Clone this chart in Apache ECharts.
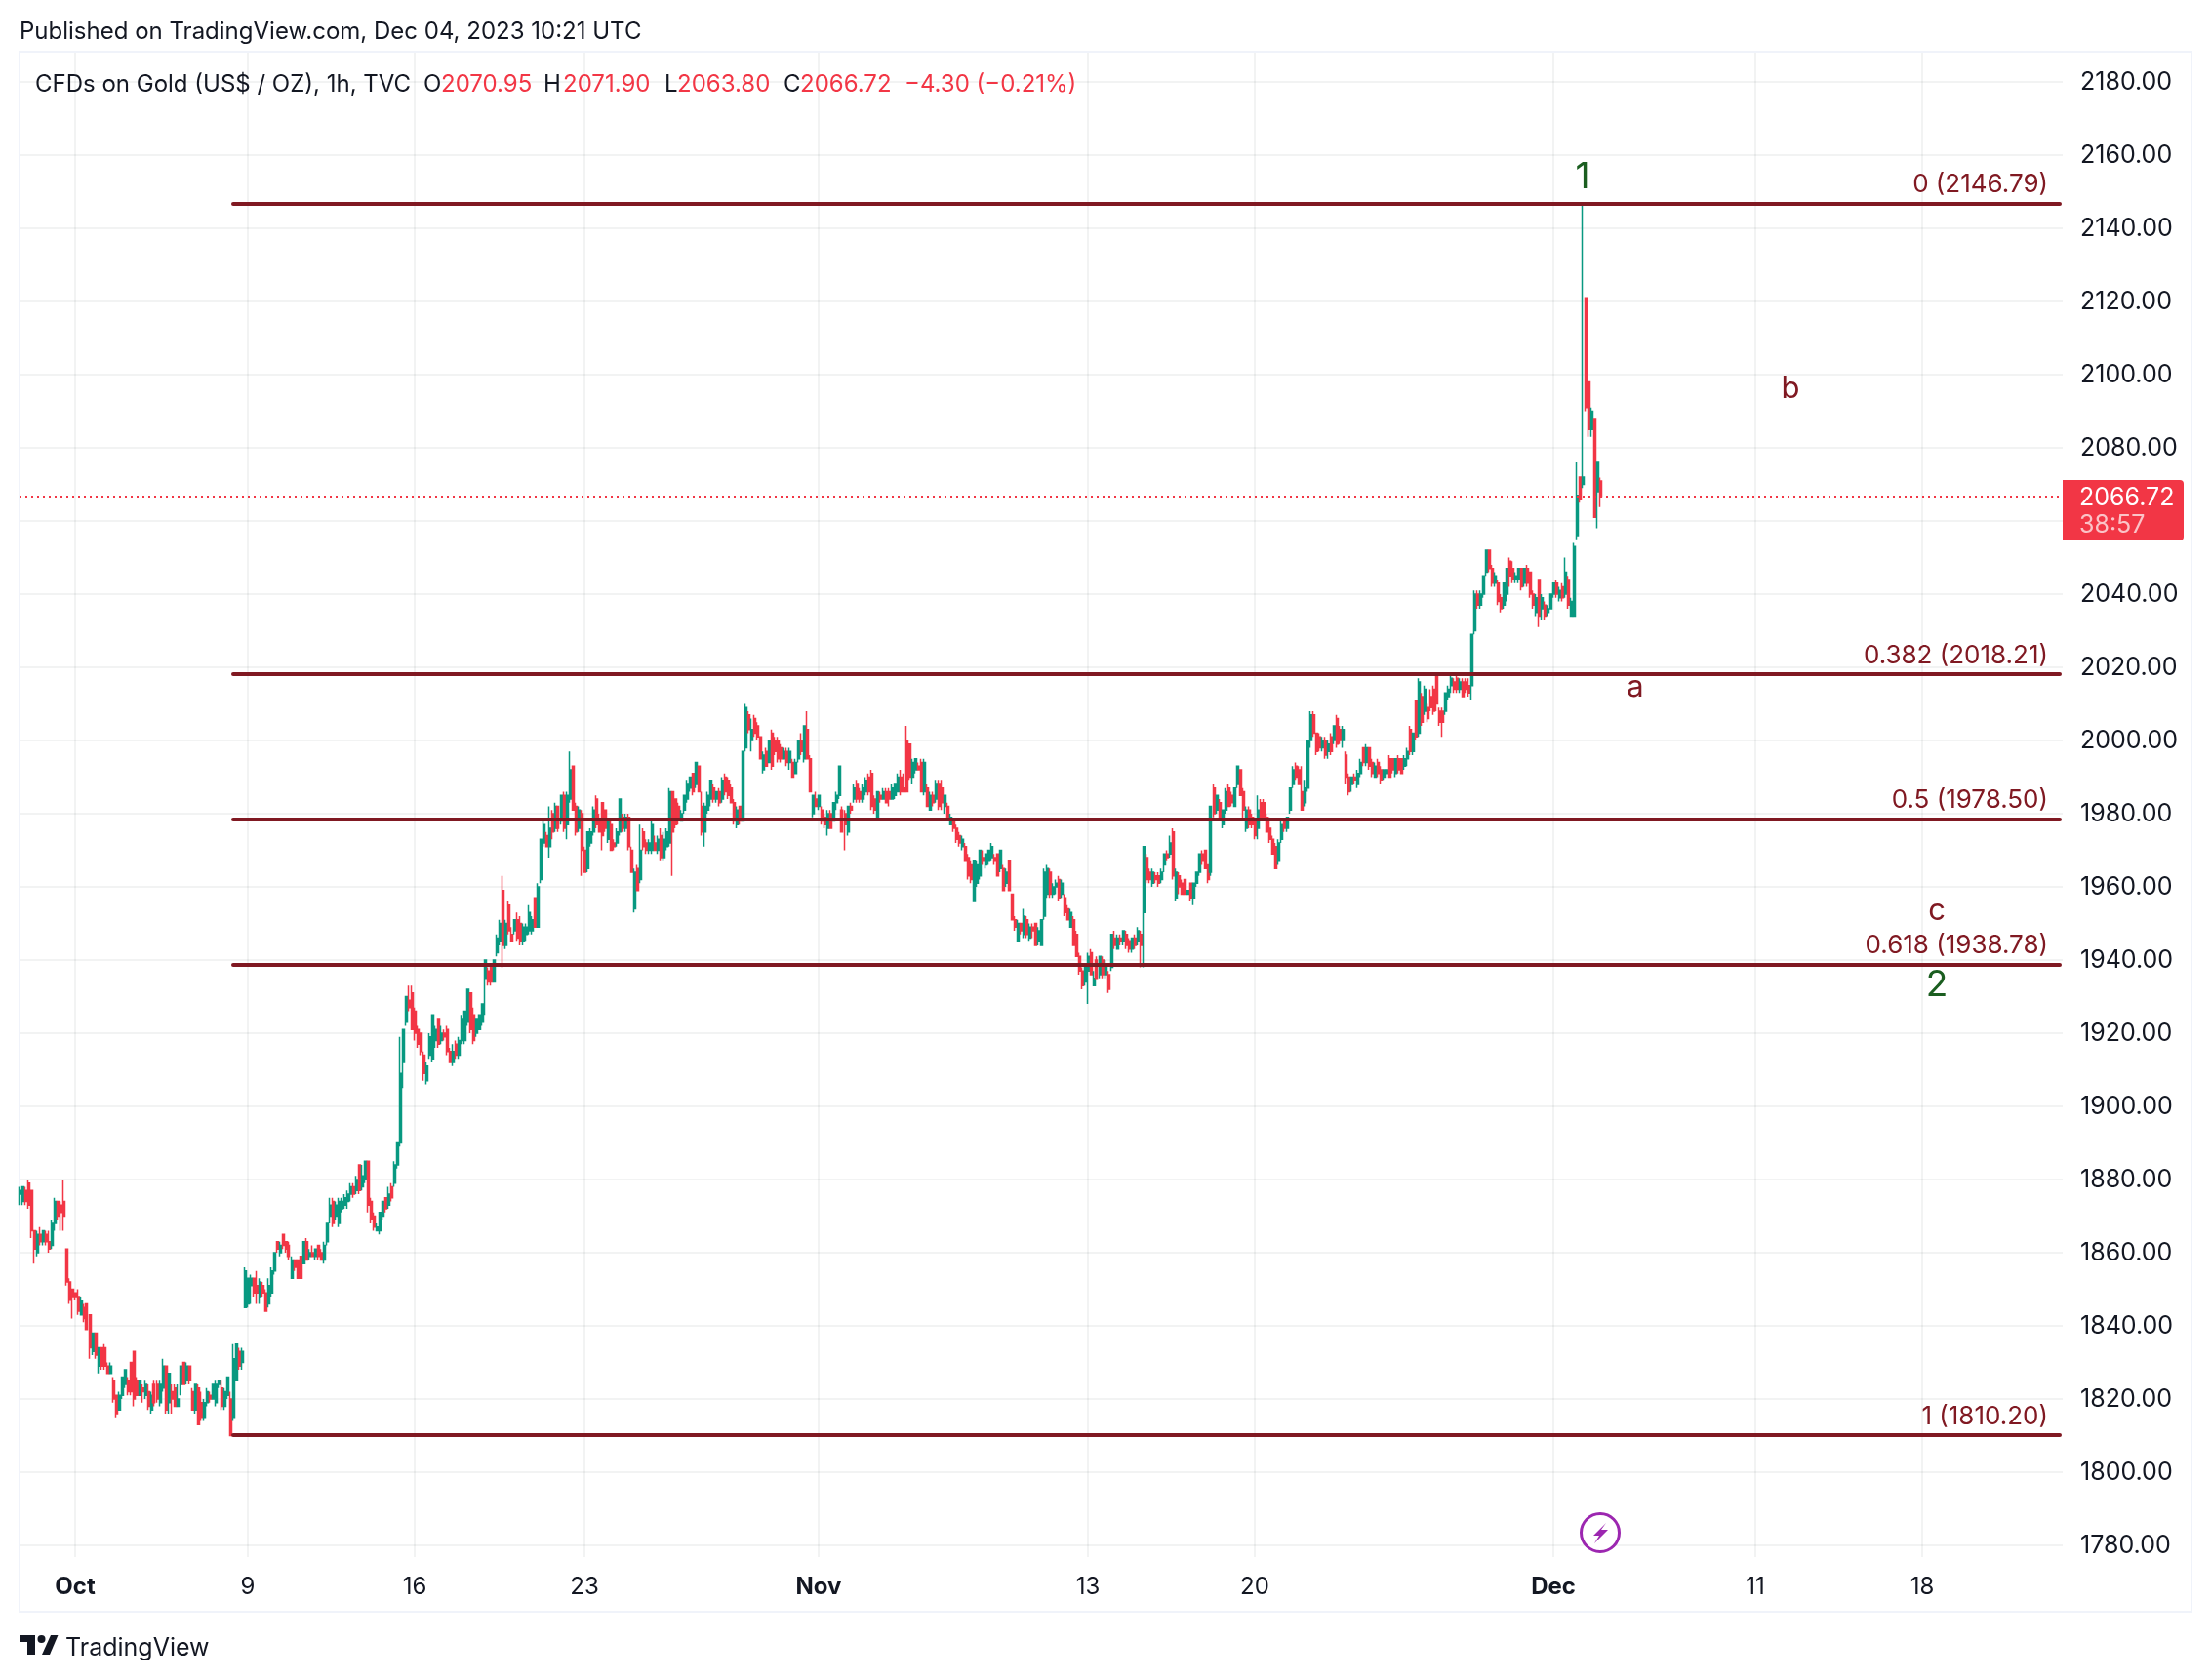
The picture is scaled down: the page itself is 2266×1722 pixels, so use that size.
<!DOCTYPE html>
<html>
<head>
<meta charset="utf-8">
<script src="https://cdn.jsdelivr.net/npm/echarts@6/dist/echarts.min.js"></script>
<style>html,body{margin:0;padding:0;background:#fff}#c{width:2266px;height:1722px}</style>
</head>
<body>
<div id="c"></div>
<script>
const opens = [
1876,1874,1877,1879,1877,1866,1860,1865,1863,1865,
1863,1862,1868,1874,1873,1874,1861,1852,1850,1849,
1848,1843,1845,1846,1843,1833,1838,1829,1834,1834,
1829,1827,1825,1821,1817,1821,1824,1825,1830,1833,
1825,1821,1823,1821,1822,1817,1824,1824,1819,1823,
1829,1819,1822,1823,1818,1824,1830,1825,1829,1822,
1817,1823,1819,1815,1819,1821,1820,1819,1824,1823,
1818,1821,1820,1815,1825,1833,1830,1845,1846,1851,
1853,1851,1848,1851,1849,1846,1849,1855,1863,1860,
1865,1863,1862,1853,1858,1858,1859,1857,1863,1859,
1860,1859,1862,1860,1858,1863,1870,1874,1870,1868,
1872,1873,1874,1876,1878,1877,1884,1878,1880,1885,
1874,1870,1866,1866,1870,1875,1873,1878,1879,1884,
1890,1912,1923,1929,1931,1926,1921,1920,1914,1907,
1914,1913,1918,1924,1918,1920,1921,1915,1912,1917,
1914,1918,1918,1923,1931,1925,1920,1921,1923,1935,
1937,1939,1934,1942,1945,1959,1944,1955,1947,1948,
1951,1950,1945,1947,1948,1948,1957,1949,1962,1972,
1974,1971,1980,1976,1982,1978,1985,1977,1984,1993,
1982,1976,1980,1970,1965,1972,1975,1984,1978,1983,
1981,1973,1977,1972,1972,1975,1979,1976,1979,1970,
1954,1965,1962,1975,1972,1970,1970,1972,1970,1974,
1968,1971,1972,1986,1984,1982,1978,1981,1984,1987,
1991,1988,1993,1982,1975,1981,1984,1987,1984,1986,
1984,1990,1989,1987,1983,1977,1982,1978,1998,2007,
2000,2006,2004,2001,1992,1997,1994,2002,2000,2000,
1998,1995,1997,1994,1994,1991,1995,2000,1995,2003,
1995,1980,1984,1982,1981,1979,1976,1980,1978,1983,
1985,1981,1980,1975,1982,1984,1988,1986,1984,1986,
1990,1991,1984,1979,1985,1984,1986,1986,1984,1985,
1986,1990,1987,2000,1999,1990,1992,1993,1994,1986,
1987,1981,1985,1984,1988,1987,1982,1982,1977,1978,
1976,1974,1971,1971,1968,1966,1956,1961,1963,1968,
1966,1967,1968,1968,1969,1965,1965,1961,1967,1958,
1951,1945,1950,1947,1951,1946,1949,1950,1945,1944,
1952,1958,1964,1958,1960,1962,1958,1957,1954,1949,
1951,1947,1941,1937,1934,1937,1942,1933,1940,1936,
1940,1936,1936,1938,1946,1943,1946,1945,1947,1945,
1943,1946,1945,1947,1953,1968,1964,1961,1963,1963,
1962,1966,1969,1969,1975,1957,1963,1961,1962,1958,
1961,1957,1961,1964,1969,1970,1966,1964,1987,1981,
1983,1977,1981,1987,1985,1982,1988,1992,1986,1976,
1981,1979,1978,1976,1983,1983,1979,1976,1973,1971,
1967,1973,1978,1976,1981,1988,1993,1992,1986,1983,
1987,2000,2007,2002,2001,1998,2000,1997,2001,2000,
2006,2003,2000,1996,1990,1988,1990,1988,1991,1998,
1994,1998,1994,1990,1994,1992,1990,1991,1995,1995,
1991,1995,1995,1993,1995,2003,1997,2011,2002,2012,
2008,2009,2012,2014,2018,2008,2008,2008,2012,2015,
2016,2017,2014,2016,2016,2015,2015,2030,2040,2037,
2040,2046,2052,2047,2043,2043,2039,2037,2040,2049,
2047,2044,2044,2047,2043,2047,2046,2040,2035,2044,
2036,2037,2035,2036,2040,2043,2039,2042,2040,2044,
2034,2034,2056,2072,2070,2121,2098,2085,2088,2068,2070.95];
const closes = [
1877,1878,1874,1873,1866,1861,1865,1863,1866,1863,
1861,1868,1874,1870,1871,1870,1852,1847,1848,1848,
1844,1847,1842,1839,1834,1838,1832,1834,1829,1829,
1827,1829,1820,1816,1821,1826,1828,1822,1822,1820,
1821,1825,1822,1824,1818,1821,1819,1820,1824,1829,
1817,1827,1820,1818,1820,1829,1824,1829,1825,1817,
1824,1813,1815,1819,1822,1820,1824,1824,1825,1818,
1822,1826,1810,1831,1835,1829,1833,1855,1853,1853,
1849,1849,1852,1849,1844,1851,1855,1860,1861,1862,
1862,1861,1859,1858,1856,1853,1853,1863,1858,1860,
1859,1861,1859,1858,1862,1868,1873,1868,1873,1874,
1874,1875,1876,1878,1876,1880,1877,1881,1885,1873,
1869,1867,1867,1871,1874,1872,1876,1875,1884,1890,
1909,1921,1930,1927,1921,1920,1917,1915,1909,1911,
1919,1925,1921,1917,1920,1919,1915,1912,1915,1914,
1918,1924,1926,1932,1921,1918,1924,1925,1928,1940,
1934,1934,1940,1946,1950,1944,1950,1948,1945,1951,
1946,1945,1949,1949,1953,1951,1949,1960,1973,1977,
1971,1976,1975,1982,1976,1985,1976,1985,1992,1981,
1975,1981,1970,1964,1975,1975,1981,1977,1975,1974,
1976,1978,1970,1971,1975,1984,1976,1979,1971,1964,
1964,1959,1970,1971,1970,1972,1977,1970,1973,1968,
1973,1975,1986,1975,1977,1979,1980,1985,1988,1990,
1986,1994,1986,1975,1982,1985,1989,1984,1986,1983,
1989,1986,1985,1983,1978,1981,1978,1997,2009,2003,
2003,2002,2001,1995,1996,1993,2000,1993,1997,1995,
1995,1997,1994,1997,1990,1994,2000,1997,2004,1995,
1986,1985,1982,1985,1978,1977,1980,1976,1983,1985,
1993,1975,1977,1982,1981,1987,1984,1984,1987,1989,
1986,1982,1981,1986,1984,1986,1983,1984,1987,1988,
1990,1986,1986,1986,1990,1994,1995,1992,1986,1994,
1982,1985,1983,1988,1982,1983,1985,1979,1979,1976,
1973,1972,1973,1967,1963,1962,1967,1966,1970,1967,
1969,1970,1971,1967,1963,1970,1959,1964,1959,1951,
1949,1950,1948,1952,1947,1949,1948,1944,1948,1951,
1964,1965,1958,1960,1961,1957,1961,1953,1951,1953,
1944,1941,1937,1933,1938,1941,1936,1935,1935,1941,
1936,1938,1932,1947,1944,1946,1945,1948,1944,1943,
1946,1944,1948,1944,1971,1962,1962,1964,1962,1961,
1964,1969,1968,1972,1963,1964,1960,1958,1958,1959,
1957,1961,1964,1969,1967,1965,1962,1982,1980,1985,
1979,1981,1986,1982,1983,1987,1993,1985,1981,1981,
1977,1977,1974,1981,1979,1979,1975,1973,1969,1965,
1972,1977,1976,1979,1987,1992,1990,1988,1981,1987,
2000,2007,2002,1997,1998,2000,1996,1999,1997,2004,
1999,2000,2003,1990,1986,1990,1989,1991,1994,1994,
1998,1993,1991,1993,1991,1989,1992,1992,1990,1992,
1995,1992,1991,1995,1997,1997,2002,2001,2016,2005,
2014,2006,2009,2008,2010,2005,2005,2013,2014,2017,
2014,2014,2016,2012,2014,2013,2029,2040,2037,2040,
2045,2052,2047,2043,2045,2038,2036,2043,2047,2045,
2044,2045,2047,2042,2047,2043,2040,2037,2039,2034,
2039,2034,2036,2040,2043,2040,2041,2039,2046,2037,
2038,2053,2067,2066,2072,2091,2085,2090,2061,2076,2066.72];
const lows = [
1873,1873,1873,1872,1864,1857,1859,1862,1862,1862,
1860,1861,1866,1869,1866,1866,1851,1846,1842,1847,
1843,1843,1841,1839,1831,1832,1831,1827,1828,1828,
1827,1827,1819,1815,1817,1820,1823,1821,1821,1818,
1821,1821,1819,1820,1817,1816,1818,1819,1818,1822,
1816,1816,1816,1818,1818,1821,1824,1824,1824,1817,
1816,1813,1814,1814,1818,1819,1820,1818,1823,1817,
1817,1820,1810,1814,1825,1828,1828,1845,1845,1846,
1848,1846,1846,1848,1844,1845,1848,1854,1860,1859,
1861,1860,1858,1853,1855,1853,1853,1857,1858,1858,
1859,1858,1858,1858,1857,1862,1868,1867,1869,1867,
1871,1872,1872,1874,1875,1876,1876,1877,1879,1871,
1868,1866,1866,1865,1869,1871,1872,1874,1878,1883,
1889,1905,1922,1926,1921,1918,1916,1914,1907,1906,
1913,1912,1916,1916,1917,1918,1914,1912,1911,1913,
1913,1917,1917,1922,1920,1917,1919,1921,1922,1925,
1933,1933,1934,1941,1944,1938,1943,1947,1945,1947,
1945,1944,1944,1945,1947,1947,1949,1949,1961,1971,
1971,1968,1973,1975,1975,1977,1975,1973,1983,1981,
1974,1975,1963,1964,1964,1971,1974,1976,1975,1970,
1975,1972,1970,1970,1971,1974,1975,1975,1970,1964,
1953,1959,1961,1970,1969,1969,1969,1970,1969,1967,
1967,1970,1971,1963,1976,1977,1978,1980,1983,1986,
1985,1987,1986,1974,1971,1980,1982,1983,1983,1982,
1983,1985,1984,1983,1977,1976,1977,1978,1997,2002,
1997,2001,2000,1995,1991,1993,1994,1992,1996,1994,
1994,1995,1993,1992,1990,1991,1994,1996,1994,1995,
1986,1979,1982,1981,1977,1976,1974,1976,1978,1981,
1984,1975,1970,1974,1980,1983,1983,1983,1983,1985,
1985,1981,1980,1979,1983,1984,1983,1982,1984,1984,
1986,1985,1986,1986,1989,1988,1991,1992,1986,1985,
1982,1981,1982,1983,1981,1981,1980,1978,1977,1975,
1972,1971,1970,1967,1962,1961,1956,1960,1962,1966,
1965,1966,1967,1966,1963,1964,1959,1960,1959,1951,
1948,1945,1947,1946,1946,1945,1946,1944,1944,1944,
1951,1957,1957,1957,1958,1956,1957,1952,1951,1949,
1944,1941,1936,1932,1933,1928,1936,1933,1935,1935,
1935,1935,1931,1937,1943,1943,1944,1944,1943,1942,
1942,1943,1944,1938,1938,1961,1961,1960,1961,1960,
1961,1964,1967,1968,1962,1956,1958,1958,1958,1958,
1956,1955,1960,1963,1966,1965,1961,1963,1979,1980,
1979,1976,1980,1982,1982,1982,1987,1985,1978,1975,
1976,1976,1973,1973,1979,1978,1975,1972,1969,1965,
1966,1972,1975,1975,1980,1987,1989,1988,1981,1982,
1986,1998,2001,1996,1997,1997,1995,1995,1996,1999,
1998,1999,1998,1988,1985,1986,1988,1987,1990,1993,
1993,1992,1990,1990,1990,1988,1989,1991,1990,1991,
1990,1991,1991,1992,1993,1996,1996,2000,2001,2004,
2007,2005,2008,2007,2008,2004,2001,2007,2011,2013,
2013,2013,2013,2012,2013,2012,2011,2029,2036,2036,
2039,2045,2046,2042,2042,2037,2035,2036,2038,2042,
2043,2043,2043,2041,2042,2042,2039,2036,2034,2031,
2033,2033,2034,2036,2039,2039,2038,2038,2039,2036,
2034,2034,2055,2065,2069,2090,2083,2083,2061,2058,2063.8];
const highs = [
1878,1878,1878,1880,1877,1866,1866,1867,1866,1866,
1866,1869,1875,1874,1874,1880,1861,1853,1850,1849,
1850,1848,1846,1846,1843,1838,1838,1834,1834,1835,
1830,1830,1826,1821,1822,1826,1828,1826,1830,1833,
1826,1825,1824,1825,1824,1822,1825,1825,1825,1831,
1829,1827,1824,1824,1824,1829,1830,1830,1829,1823,
1824,1824,1822,1820,1823,1822,1824,1825,1825,1825,
1823,1826,1822,1835,1835,1834,1834,1856,1853,1854,
1853,1855,1853,1852,1850,1853,1856,1860,1863,1863,
1865,1863,1863,1859,1858,1858,1859,1863,1864,1861,
1862,1861,1862,1861,1863,1868,1875,1875,1874,1875,
1875,1876,1877,1879,1879,1881,1884,1884,1885,1885,
1875,1871,1868,1871,1874,1875,1878,1879,1885,1890,
1919,1921,1930,1933,1933,1927,1922,1920,1915,1912,
1920,1925,1922,1924,1922,1921,1922,1916,1917,1918,
1919,1925,1926,1932,1931,1927,1924,1925,1928,1940,
1938,1939,1940,1947,1951,1963,1951,1956,1949,1951,
1953,1952,1950,1950,1955,1952,1957,1961,1973,1978,
1975,1982,1981,1983,1982,1985,1986,1986,1997,1993,
1983,1982,1981,1971,1975,1976,1982,1985,1980,1983,
1981,1978,1978,1973,1976,1984,1980,1980,1980,1971,
1965,1966,1977,1976,1973,1973,1978,1974,1974,1976,
1975,1976,1987,1986,1984,1983,1981,1985,1989,1990,
1991,1994,1993,1986,1983,1986,1989,1988,1986,1987,
1990,1991,1990,1988,1984,1982,1982,1997,2010,2008,
2006,2007,2005,2001,1997,1998,2000,2003,2001,2001,
1999,1998,1998,1998,1995,1995,2000,2002,2004,2008,
1996,1985,1986,1985,1982,1980,1981,1981,1983,1986,
1993,1982,1981,1982,1983,1988,1989,1987,1988,1990,
1991,1992,1985,1986,1986,1987,1987,1987,1988,1988,
1991,1992,1991,2004,1999,1995,1995,1994,1995,1995,
1988,1986,1986,1989,1989,1989,1985,1983,1980,1978,
1977,1975,1974,1972,1969,1967,1967,1967,1970,1970,
1969,1970,1972,1969,1969,1970,1966,1965,1967,1958,
1952,1951,1950,1954,1952,1950,1950,1950,1949,1951,
1965,1966,1965,1961,1962,1963,1962,1958,1955,1954,
1952,1948,1942,1938,1939,1942,1943,1937,1941,1941,
1941,1940,1937,1947,1948,1947,1947,1948,1948,1946,
1946,1947,1949,1948,1971,1969,1965,1965,1964,1964,
1965,1969,1970,1974,1976,1965,1964,1962,1962,1959,
1961,1961,1964,1969,1970,1970,1966,1982,1988,1985,
1984,1981,1987,1988,1986,1987,1993,1992,1987,1982,
1982,1980,1979,1985,1984,1984,1980,1979,1974,1972,
1973,1978,1978,1979,1987,1993,1994,1993,1993,1989,
2000,2008,2008,2002,2002,2001,2001,2000,2002,2004,
2007,2004,2004,1997,1991,1990,1991,1992,1995,1998,
1999,1998,1995,1994,1995,1993,1992,1992,1996,1995,
1995,1996,1995,1996,1998,2004,2002,2011,2017,2013,
2015,2010,2014,2015,2018,2009,2009,2013,2015,2018,
2017,2018,2017,2017,2017,2017,2029,2041,2041,2041,
2045,2052,2052,2048,2046,2044,2040,2043,2047,2050,
2049,2046,2047,2047,2047,2048,2046,2041,2040,2044,
2040,2038,2037,2040,2043,2044,2042,2043,2050,2045,
2039,2054,2076,2072,2146.79,2121,2098,2091,2088,2076,2071.9];

const slotCount = 699;                 // bar slots on the time axis, including the empty future
const tickLabels = ['Oct','9','16','23','Nov','13','20','Dec','11','18'];
const tickSlots  = [19,78,135,193,273,365,422,524,593,650];
const monthLabels = ['Oct','Nov','Dec'];
const priceTicks = [1780,1800,1820,1840,1860,1880,1900,1920,1940,1960,1980,2000,2020,2040,2060,2080,2100,2120,2140,2160,2180];

const fibRatios = ['0','0.382','0.5','0.618','1'];
const fibPrices = [2146.79,2018.21,1978.50,1938.78,1810.20];
const fibStartSlot = 73;
const fibEndSlot = 697;
const lastPrice = 2066.72;

const waveLabels = ['1','2','a','b','c'];
const waveSlots  = [534,655,552,605,655];
const wavePrices = [2153.8,1933.1,2014.5,2096.2,1953.3];

const categories = Array.from({length:slotCount},(_,i)=>{const k=tickSlots.indexOf(i);return k>=0?tickLabels[k]:'';});
const isTick = i => tickSlots.indexOf(i)>=0;

const UP='#089981',DOWN='#F23645',FIB='#801922',GREEN='#1B5E20',INK='#131722',GRID='rgba(42,46,57,0.06)',BORDER='#F0F3FA';
const FONT='Inter';

function txt(x,y,text,fill,size,extra){
  return {type:'text',x,y,silent:true,z:50,style:Object.assign({text,fill,font:(size||24)+'px '+FONT,verticalAlign:'middle',align:'left'},extra||{})};
}

const fibLines = fibPrices.map((p,k)=>[
  {coord:[fibStartSlot,p],lineStyle:{color:FIB,width:4,cap:'round',type:'solid'},
   label:{show:true,position:'insideEndTop',distance:[12,6],formatter:fibRatios[k]+' ('+p.toFixed(2)+')',color:FIB,fontFamily:FONT,fontSize:26}},
  {coord:[fibEndSlot,p]}
]);
const lastLine = [{coord:[0,lastPrice],lineStyle:{color:DOWN,width:2,type:[2,4]},label:{show:false}},{coord:[slotCount-1,lastPrice]}];

const chart = echarts.init(document.getElementById('c'),null,{renderer:'canvas',width:2266,height:1722});
chart.setOption({
  animation:false,
  textStyle:{fontFamily:FONT},
  grid:{left:20,right:152,top:54,bottom:126,containLabel:false},
  xAxis:{
    type:'category',data:categories,boundaryGap:false,
    axisLine:{show:false},axisTick:{show:false},
    axisLabel:{
      interval:(i)=>isTick(i),hideOverlap:false,margin:19,color:INK,fontSize:24,fontFamily:FONT,
      formatter:v=>monthLabels.indexOf(v)>=0?'{m|'+v+'}':v,
      rich:{m:{fontWeight:700,fontSize:24,color:INK,fontFamily:FONT}}
    },
    splitLine:{show:true,interval:(i)=>isTick(i),lineStyle:{color:GRID,width:2}}
  },
  yAxis:{
    type:'value',position:'right',min:1776.8,max:2188,scale:true,
    axisLine:{show:false},
    axisTick:{show:false,customValues:priceTicks},
    axisLabel:{customValues:priceTicks,margin:18,align:'left',color:INK,fontSize:25,fontFamily:FONT,padding:[5,0,0,0],formatter:v=>v.toFixed(2)},
    splitLine:{show:true,lineStyle:{color:GRID,width:2}}
  },
  series:[
    {type:'candlestick',z:3,barWidth:2.5,clip:true,
     itemStyle:{color:UP,color0:DOWN,borderColor:UP,borderColor0:DOWN,borderWidth:1.5},
     data:opens.map((o,i)=>[o,closes[i],lows[i],highs[i]]),
     markLine:{silent:true,symbol:'none',animation:false,data:fibLines.concat([lastLine])}
    },
    {type:'scatter',z:5,symbolSize:0,silent:true,itemStyle:{opacity:1},
     data:waveLabels.map((t,i)=>({value:[waveSlots[i],wavePrices[i]],
       label:{show:true,position:'inside',formatter:t,
         color:(t==='1'||t==='2')?GREEN:FIB,
         fontFamily:FONT,fontSize:(t==='1'||t==='2')?37:31}}))
    }
  ],
  graphic:[
    {type:'rect',silent:true,z:-1,shape:{x:20,y:53,width:2226,height:1599},style:{fill:'none',stroke:BORDER,lineWidth:2}},
    txt(20,33,'Published on TradingView.com, Dec 04, 2023 10:21 UTC',INK,24),
    txt(36,87,'CFDs on Gold (US$ / OZ), 1h, TVC',INK,24),
    txt(434,87,'O',INK,24),txt(452,87,'2070.95',DOWN,24),
    txt(557,87,'H',INK,24),txt(577,87,'2071.90',DOWN,24),
    txt(681,87,'L',INK,24),txt(694,87,'2063.80',DOWN,24),
    txt(803,87,'C',INK,24),txt(820,87,'2066.72',DOWN,24),
    txt(927,87,'\u22124.30 (\u22120.21%)',DOWN,24),
    {type:'rect',silent:true,z:40,shape:{x:2114,y:492,width:124,height:62,r:[0,4,4,0]},style:{fill:DOWN}},
    txt(2131,510,'2066.72','#FFFFFF',25),
    txt(2131,538,'38:57','rgba(255,255,255,0.7)',25),
    {type:'circle',silent:true,z:40,shape:{cx:1640,cy:1571,r:19.5},style:{fill:'#fff',stroke:'#9C27B0',lineWidth:3}},
    {type:'polygon',silent:true,z:41,shape:{points:[[1646,1561],[1633,1574],[1639,1574],[1634,1582],[1648,1568],[1641,1568]]},style:{fill:'#9C27B0'}},
    {type:'polygon',silent:true,z:40,shape:{points:[[20,1676],[36,1676],[36,1696],[28,1696],[28,1683],[20,1683]]},style:{fill:INK}},
    {type:'circle',silent:true,z:40,shape:{cx:42.5,cy:1680,r:4},style:{fill:INK}},
    {type:'polygon',silent:true,z:40,shape:{points:[[52,1676],[59.5,1676],[51,1696],[43,1696]]},style:{fill:INK}},
    txt(67,1689,'TradingView',INK,25)
  ]
});
</script>
</body>
</html>
